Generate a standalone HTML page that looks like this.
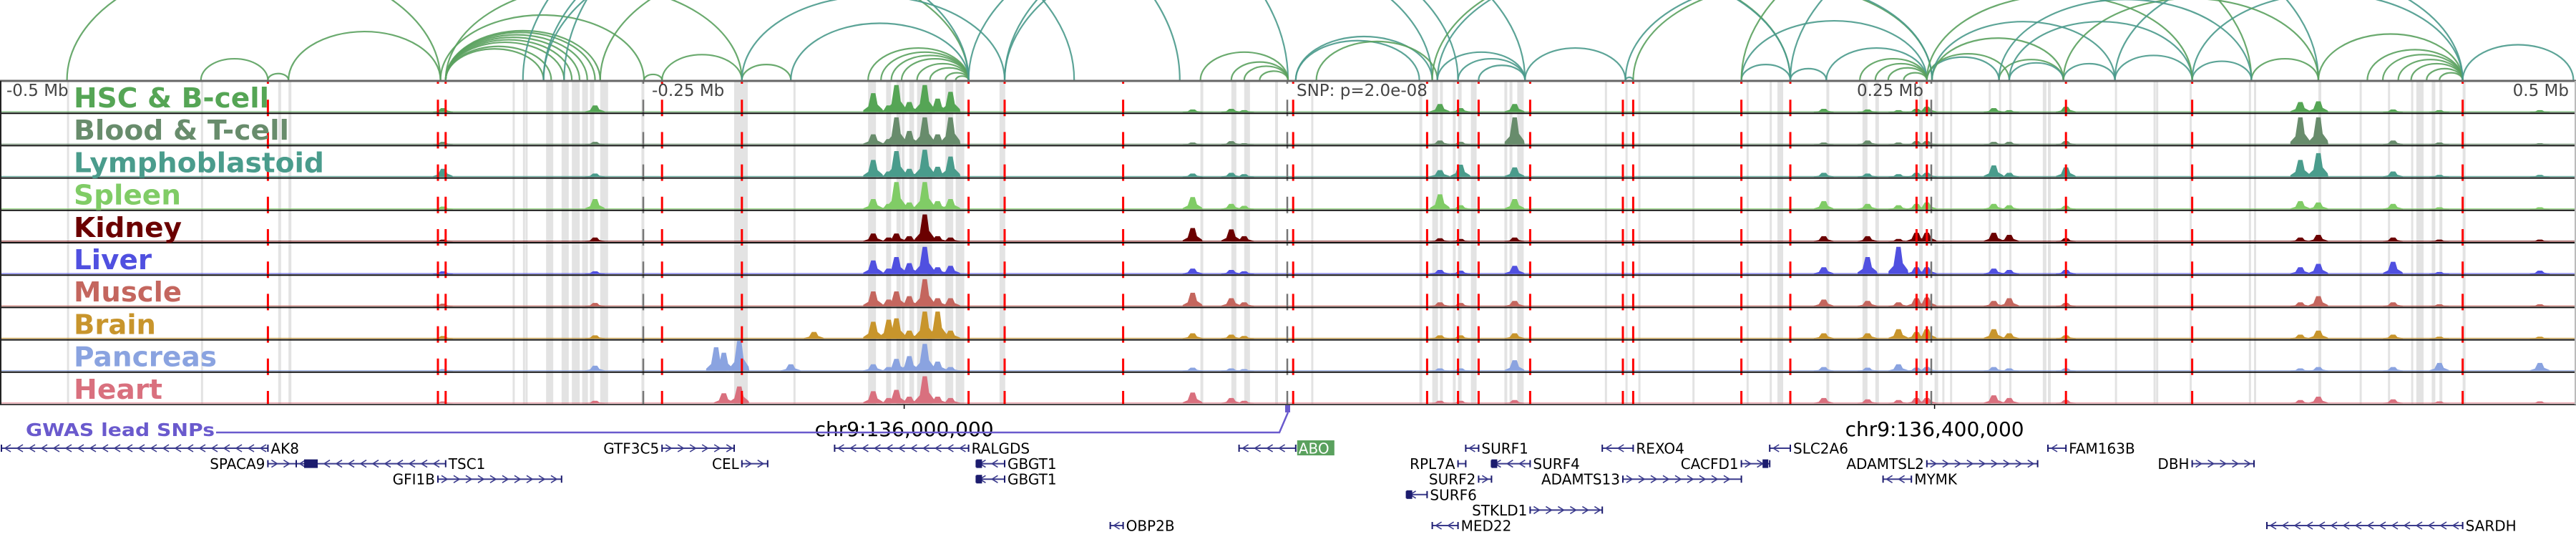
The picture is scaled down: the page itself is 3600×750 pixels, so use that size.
<!DOCTYPE html>
<html><head><meta charset="utf-8"><title>Locus plot</title>
<style>html,body{margin:0;padding:0;background:#fff;width:3600px;height:750px;overflow:hidden}svg{display:block}</style>
</head><body>
<svg id="chart" xmlns="http://www.w3.org/2000/svg" width="3600" height="750" viewBox="0 0 3600 750">
<g id="bands"></g>
<g id="arcs"></g>
<g id="tracks"></g>
<g id="vlines"></g>
<g id="frame"></g>
<g id="labels"></g>
<g id="genes"></g>
</svg>
<script>
// ---- data (positions in kb relative to lead SNP) ----
const bandKb = [-474,-422,-392,-388,-301,-297,-296,-288,-282,-278,-274,-271,-267,-251,-215,-192,-163,-156,-152,-150,-147,-146,-144,-133,-129,-112,-34,-22,-17,-5,9,51,56,59,64,66,71,84,86,89,123,131,136,157,178,187,190,209,223,228,245,251,254,257,272,276,280,293,295,321,336,337,350,373,375,400,416,427,436,438,440,444,447,456];
const bandW = [3,3,4,4,3,3,3,10,10,11,8,6,11,4,19,3,11,7,6,4,4,3,21,11,12,8,4,7,8,4,3,4,8,4,4,5,8,4,4,9,3,3,3,3,3,3,8,4,7,5,5,5,3,3,3,3,3,5,4,3,3,3,3,3,3,4,3,3,3,9,3,5,4,4];
const redKb = [-396,-330,-327,-243,-212,-124,-110,-64,2,54,66,74,94,130,134,176,195,244,248,302,351,456];
const markKb = [-250,0,250];
const arcA = [-474,-422,-396,-388,-327,-327,-327,-327,-327,-327,-327,-327,-329,-327,-297,-281,-289,-250,-243,-212,-267,-289,-163,-158,-154,-150,-144,-139,-133,-129,-193,-212,-110,-124,-110,-34,-22,-17,-11,3,3,11,58,66,74,56,58,131,92,134,131,176,195,176,209,222,228,233,239,248,248,250,250,195,176,276,280,301,321,351,374,400,351,301,419,425,431,436,442,447,456,280,248,321,276];
const arcB = [-329,-396,-388,-329,-289,-286,-281,-278,-275,-272,-269,-267,-250,-212,-42,0,-83,-243,-212,-193,-124,-124,-124,-124,-124,-124,-124,-124,-124,-124,-124,-110,56,66,92,0,0,0,0,51,56,58,92,92,92,195,195,134,131,250,250,195,209,248,248,248,248,248,248,276,280,301,321,400,374,301,301,321,351,374,400,456,456,400,456,456,456,456,456,456,499,351,351,456,374];
const arcTeal = [0,0,0,0,0,0,0,0,0,0,0,0,0,0,1,1,1,0,0,0,0,1,0,0,0,0,0,0,0,0,1,1,1,1,1,0,0,0,0,1,1,0,1,1,1,0,1,1,1,0,1,1,1,1,1,0,0,0,0,1,0,0,1,1,0,0,1,1,1,1,0,0,1,0,0,0,0,0,0,0,1,1,0,1,1];
const tissues = ["HSC & B-cell","Blood & T-cell","Lymphoblastoid","Spleen","Kidney","Liver","Muscle","Brain","Pancreas","Heart"];
const tissueColors = ["#55a555","#688c6c","#4a9c8c","#80cc66","#6b0000","#5050e0","#c4665e","#c8952c","#8aa3e0","#d9707e"];
const labelWidths = [273,301,350,150,151,109,151,115,200,124];
const peakKb = [-222,-219,-213,-193,-184,-161,-155,-152,-147,-141,-136,-131,-328,-269,-37,-22,-17,59,67,88,208,225,237,244,248,274,280,302,393,400,429,447,486];
const sigHSC   = [0,0,0,0,0,28,10,40,15,40,20,30,6,10,4,5,3,12,6,12,5,4,3,5,8,6,3,8,15,16,4,3,3];
const sigBlood = [0,0,0,0,0,15,8,40,20,40,15,40,4,4,3,5,2,6,4,40,3,6,3,5,5,4,4,5,40,40,6,3,2];
const sigLympho= [0,0,0,0,0,25,8,38,12,40,15,30,12,5,5,6,4,10,18,14,6,5,4,6,6,17,6,14,25,35,8,3,3];
const sigSpleen= [0,0,0,0,0,15,8,40,10,40,12,15,4,15,18,8,5,22,6,15,12,8,6,8,10,8,6,5,12,10,8,3,3];
const sigKidney= [0,0,0,0,0,12,6,12,8,40,8,6,3,6,20,18,8,5,4,6,8,8,4,13,13,13,10,5,6,10,6,3,3];
const sigLiver = [0,0,0,0,0,20,8,25,16,40,10,12,4,4,8,6,4,6,5,12,10,25,40,10,10,8,6,6,10,15,18,3,5];
const sigMuscle= [0,0,0,0,0,22,10,22,15,40,12,12,4,5,20,12,6,6,5,8,10,8,6,12,13,8,12,5,6,15,6,3,3];
const sigBrain = [0,0,0,0,10,25,28,30,12,40,40,12,4,5,8,6,4,5,5,8,8,8,14,10,14,14,8,5,6,12,6,3,3];
const sigPanc  = [35,27,45,10,0,10,6,18,22,40,14,6,3,8,5,4,3,4,4,16,6,5,10,5,6,6,4,4,4,6,6,12,12];
const sigHeart = [0,15,25,0,0,18,8,20,10,40,10,8,3,4,16,8,4,4,4,5,8,6,5,8,8,12,8,5,5,10,6,3,3];
const signals = [sigHSC,sigBlood,sigLympho,sigSpleen,sigKidney,sigLiver,sigMuscle,sigBrain,sigPanc,sigHeart];
const geneNames = ["AK8","SPACA9","TSC1","GFI1B","GTF3C5","CEL","RALGDS","GBGT1","GBGT1","OBP2B","ABO","RPL7A","SURF1","SURF2","SURF6","MED22","STKLD1","SURF4","REXO4","ADAMTS13","CACFD1","SLC2A6","ADAMTSL2","MYMK","FAM163B","DBH","SARDH"];
const geneStart = [-500,-396,-385,-330,-243,-212,-176,-121,-121,-69,-19,66,69,74,46,56,94,79,122,130,176,187,248,231,295,351,380];
const geneEnd   = [-396,-385,-327,-282,-215,-202,-124,-110,-110,-64,3,69,74,79,54,66,122,94,134,176,187,195,291,242,302,375,456];
const geneRow   = [0,1,1,2,0,1,0,1,2,5,0,1,0,2,3,5,4,1,0,2,1,0,1,2,0,1,5];
const geneStrand= [-1,1,-1,1,1,1,-1,-1,-1,-1,-1,1,-1,1,-1,-1,1,-1,-1,1,1,-1,1,-1,-1,1,-1];
const geneLabelLeft=[0,1,0,1,1,1,0,0,0,0,0,1,0,1,0,0,1,0,0,1,1,0,1,0,0,1,0];
const axisTickKb = [-149,251];
const axisTickLabels = ["chr9:136,000,000","chr9:136,400,000"];
const relLabels = ["-0.5 Mb","-0.25 Mb","SNP: p=2.0e-08","0.25 Mb","0.5 Mb"];
const relKb = [-500,-250,0,250,500];

// ---- scales ----
const TOP=113, TH=45.2, NT=10, BOT=TOP+TH*NT;
const x = kb => 1800 + kb*3.6;
const sigY = v => v*0.95;
const NS="http://www.w3.org/2000/svg";
function mk(tag,parent,attrs){const e=document.createElementNS(NS,tag);for(const k in attrs)e.setAttribute(k,attrs[k]);parent.appendChild(e);return e;}
const G=id=>document.getElementById(id);

bandKb.forEach((k,i)=>{const r=mk('rect',G('bands'),{x:x(k),y:TOP,width:bandW[i],height:BOT-TOP,fill:'#e3e3e3'});

});

arcA.forEach((a,i)=>{const xa=x(a),xb=x(arcB[i]);const rx=(xb-xa)/2;const ry=Math.max(4,(xb-xa)*0.32);
const p=mk('path',G('arcs'),{d:`M${xa},${TOP-1} A${rx},${ry} 0 0 1 ${xb},${TOP-1}`,fill:'none',stroke:arcTeal[i]?'#4a9a8c':'#5aa15e','stroke-width':2.2,'stroke-opacity':0.9});

});

tissues.forEach((t,ti)=>{const top=TOP+ti*TH, base=top+TH-1.5, col=tissueColors[ti];
const g=mk('g',G('tracks'),{});


mk('rect',g,{x:0,y:base-1.3,width:3600,height:1.3,fill:col,'fill-opacity':0.8});
signals[ti].forEach((v,pi)=>{if(v<=0)return;const cx=x(peakKb[pi]);const h=Math.min(sigY(v),TH-3);
const poly=mk('polygon',g,{fill:col,points:`${cx-14},${base} ${cx-14},${base-0.1*h} ${cx-7},${base-0.3*h} ${cx-3},${base-h} ${cx+3},${base-h} ${cx+6},${base-0.4*h} ${cx+13},${base-0.15*h} ${cx+14},${base}`});

});
const lab=mk('text',G('labels'),{x:103,y:top+37,'font-family':'DejaVu Sans, Liberation Sans, sans-serif','font-weight':'bold','font-size':38,fill:col,textLength:labelWidths[ti],lengthAdjust:'spacingAndGlyphs'});
lab.textContent=t;


});

redKb.forEach(k=>{const l=mk('line',G('vlines'),{x1:x(k),x2:x(k),y1:TOP,y2:BOT,stroke:'#ff0000','stroke-width':3,'stroke-dasharray':'23 22.2','stroke-dashoffset':19});

});
markKb.forEach(k=>{const l=mk('line',G('vlines'),{x1:x(k)-1,x2:x(k)-1,y1:TOP,y2:BOT,stroke:'#777','stroke-width':2.5,'stroke-dasharray':'23 22.2','stroke-dashoffset':19});

});

for(let i=1;i<=NT;i++){const y=TOP+i*TH;const l=mk('line',G('frame'),{x1:0,x2:3600,y1:y,y2:y,stroke:i==NT?'#444':'#111','stroke-width':2});

}
mk('line',G('frame'),{x1:0,x2:3600,y1:TOP,y2:TOP,stroke:'#666','stroke-width':3});
mk('line',G('frame'),{x1:1,x2:1,y1:TOP,y2:BOT,stroke:'#222','stroke-width':2});
mk('line',G('frame'),{x1:3599,x2:3599,y1:TOP,y2:BOT,stroke:'#bbb','stroke-width':2});
relLabels.forEach((s,i)=>{let xx=x(relKb[i]);let anchor='start';if(i==0)xx=9;else if(i==4){xx=3590;anchor='end';}else if(i==2)xx+=12;else if(i==3){xx-=12;anchor='end';}else xx+=11;
const t=mk('text',G('frame'),{x:xx,y:134,'font-family':'DejaVu Sans, Liberation Sans, sans-serif','font-size':23,fill:'#444','text-anchor':anchor});t.textContent=s;

});
axisTickKb.forEach((k,i)=>{mk('line',G('frame'),{x1:x(k),x2:x(k),y1:BOT,y2:BOT+6,stroke:'#000','stroke-width':1.5});
const t=mk('text',G('frame'),{x:x(k),y:BOT+44,'font-family':'DejaVu Sans, Liberation Sans, sans-serif','font-size':28,fill:'#000','text-anchor':'middle'});t.textContent=axisTickLabels[i];

});

const gw=mk('g',G('genes'),{});


const gt=mk('text',gw,{x:36,y:609,'font-family':'DejaVu Sans, Liberation Sans, sans-serif','font-weight':'bold','font-size':25,fill:'#6a5acd',textLength:264,lengthAdjust:'spacingAndGlyphs'});gt.textContent='GWAS lead SNPs';


mk('polyline',gw,{points:`302,604 ${x(0)-12},604 ${x(0)},576`,fill:'none',stroke:'#6a5acd','stroke-width':2.5});
const sm=mk('rect',gw,{x:x(0)-4,y:566,width:7,height:10,fill:'#6a5acd'});



const rowY=r=>626+r*21.6;
geneNames.forEach((n,i)=>{const g=mk('g',G('genes'),{});


const xa=Math.max(2,x(geneStart[i])),xb=x(geneEnd[i]),y=rowY(geneRow[i]);
mk('line',g,{x1:xa,x2:xb,y1:y,y2:y,stroke:'#3a3a8c','stroke-width':2});
mk('line',g,{x1:xa,x2:xa,y1:y-5,y2:y+5,stroke:'#1c1c6e','stroke-width':2});
mk('line',g,{x1:xb,x2:xb,y1:y-5,y2:y+5,stroke:'#1c1c6e','stroke-width':2});
const s=geneStrand[i];
for(let cx=xa+9;cx<xb-4;cx+=17){mk('polyline',g,{points:`${cx-4*s},${y-5} ${cx+4*s},${y} ${cx-4*s},${y+5}`,fill:'none',stroke:'#3a3a8c','stroke-width':1.6});}
if(n==='TSC1'||n==='SURF4'||n==='SURF6'||n==='CACFD1'||n==='GBGT1'){const bx=n==='TSC1'?xa+11:(n==='CACFD1'?xb-10:xa);mk('rect',g,{x:bx,y:y-6,width:n==='TSC1'?19:8,height:12,fill:'#1c1c6e'});}
const left=geneLabelLeft[i];
if(n==='ABO'){mk('rect',g,{x:xb+2,y:y-11,width:52,height:21,fill:'#5aa15e'});}
const t=mk('text',g,{x:left?xa-4:xb+4,y:y+7.5,'font-family':'DejaVu Sans, Liberation Sans, sans-serif','font-size':20,fill:n==='ABO'?'#fff':'#000','text-anchor':left?'end':'start'});t.textContent=n;
});
</script>
</body></html>
